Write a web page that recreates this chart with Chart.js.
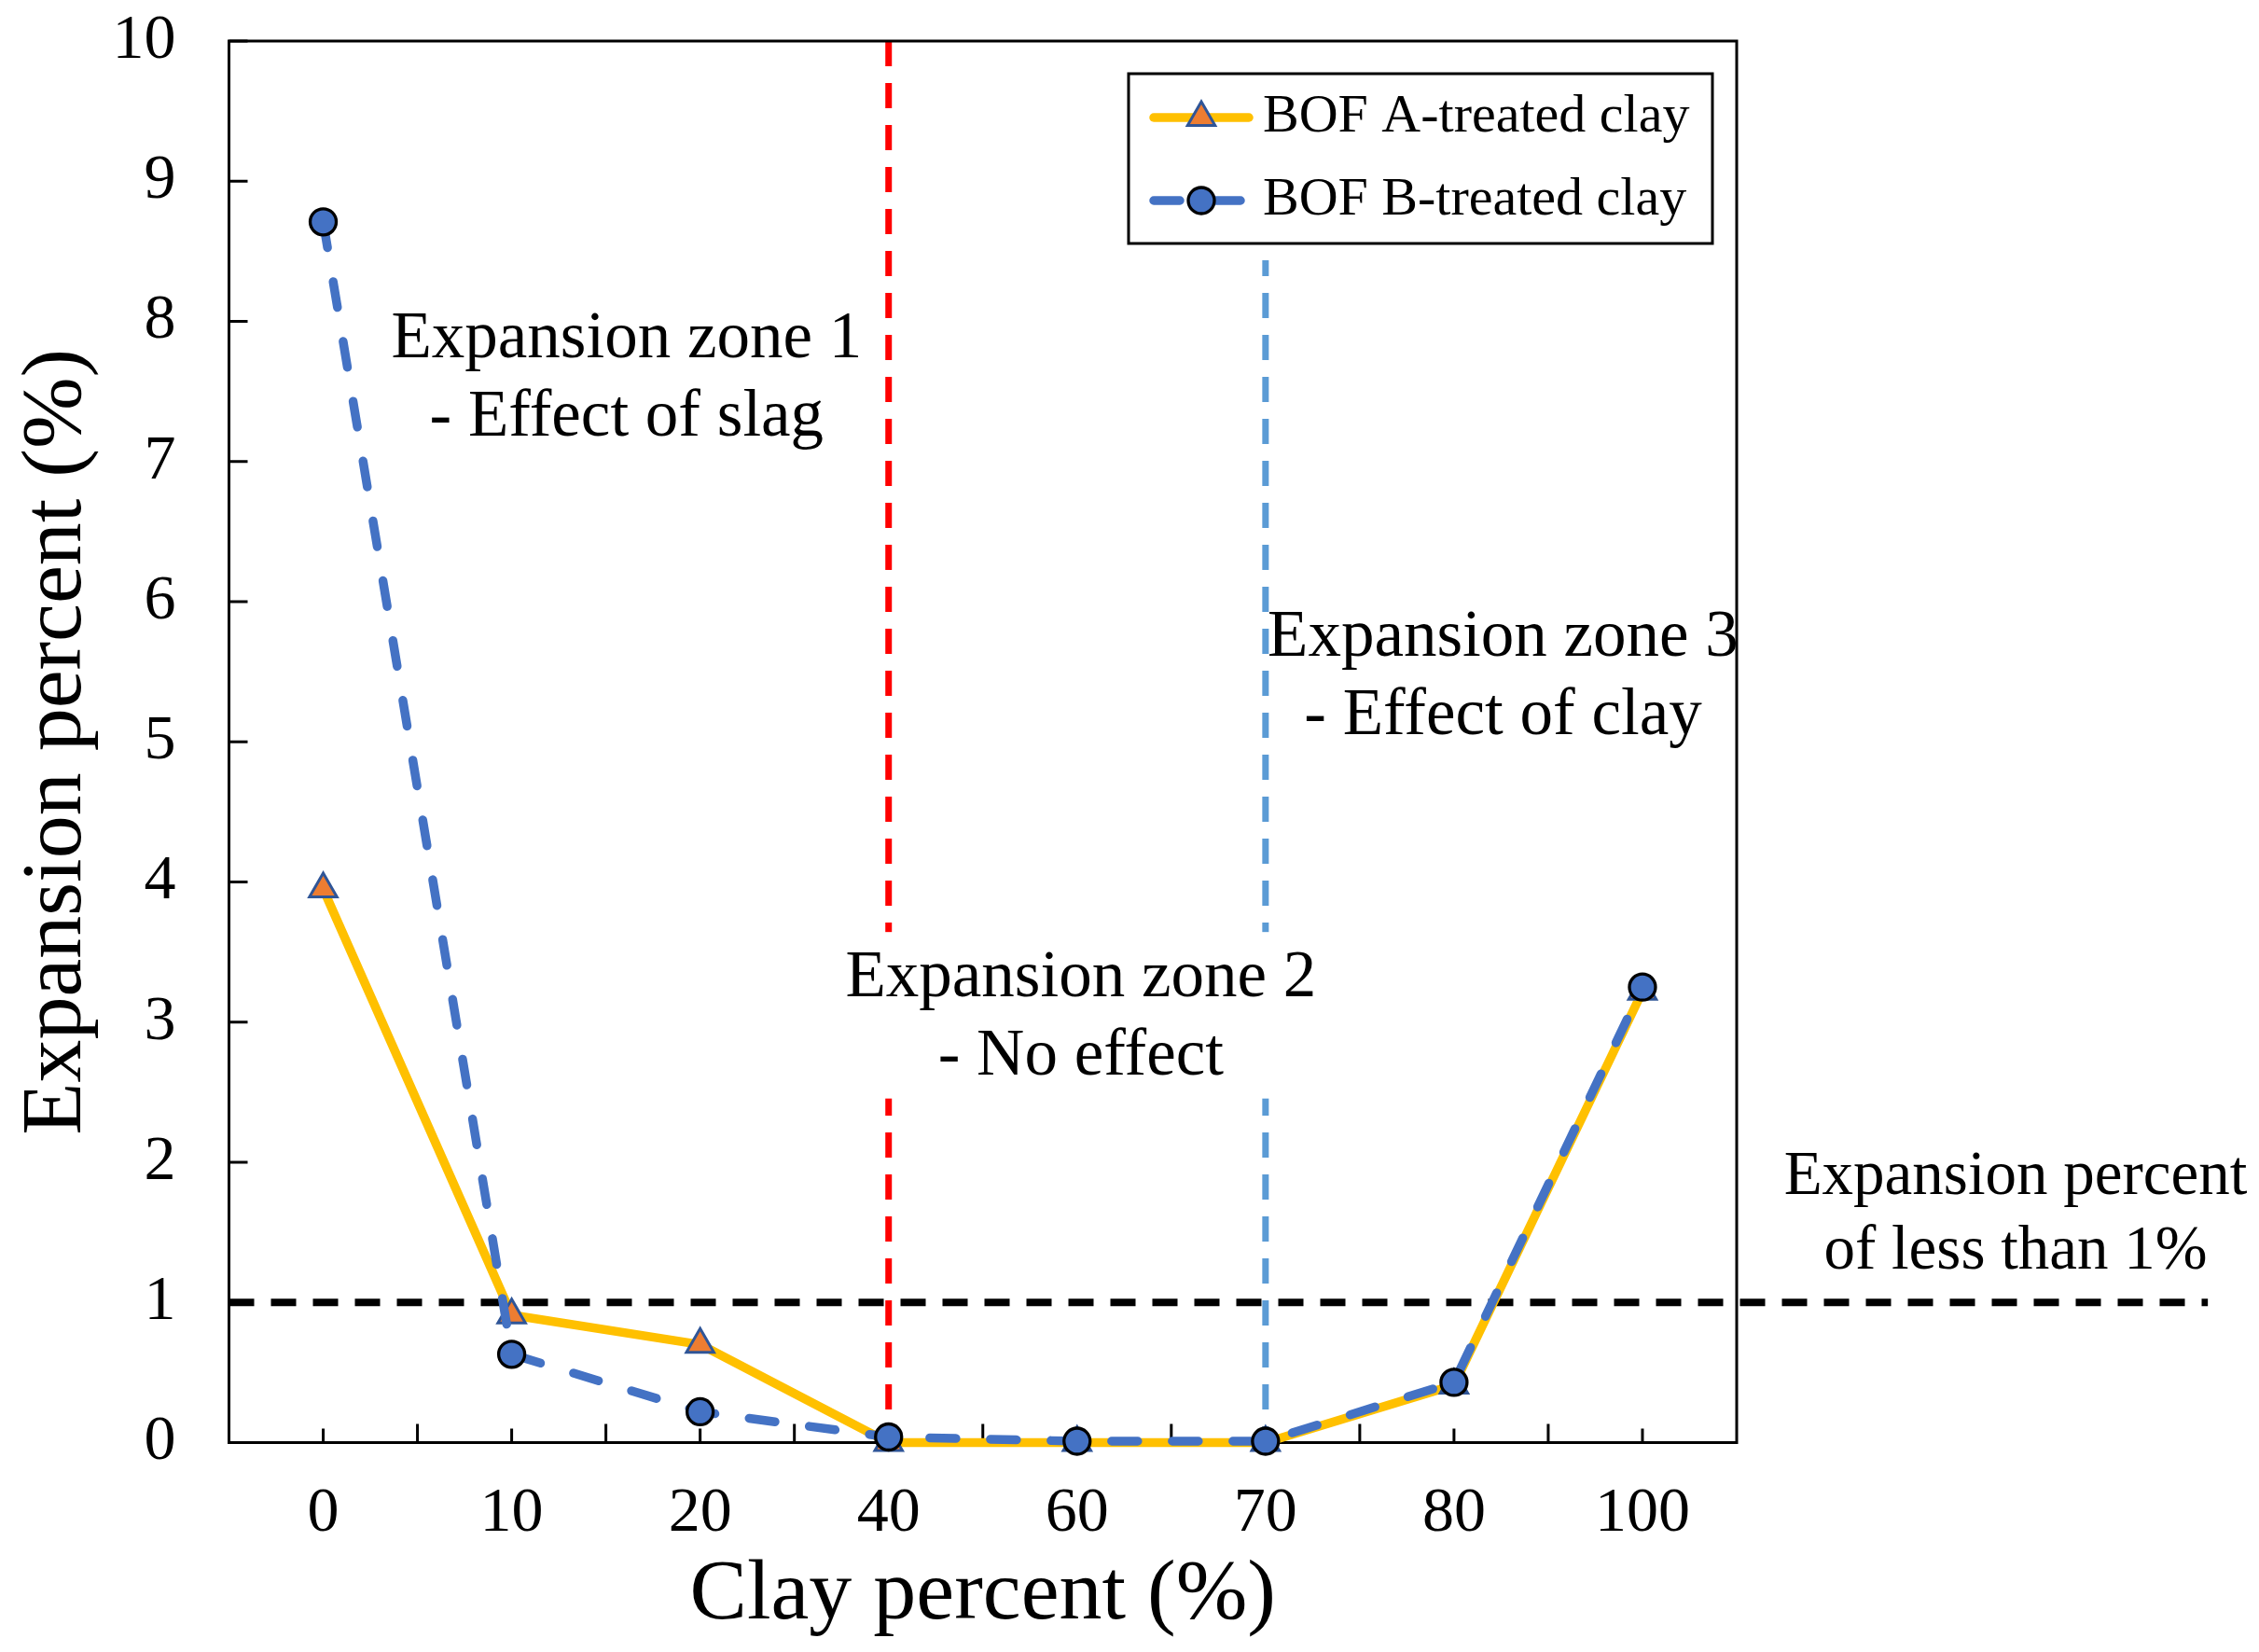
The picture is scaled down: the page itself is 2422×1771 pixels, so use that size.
<!DOCTYPE html>
<html>
<head>
<meta charset="utf-8">
<script src="https://cdn.jsdelivr.net/npm/chart.js@4.4.1/dist/chart.umd.min.js"></script>
<style>
  html, body { margin: 0; padding: 0; background: #fff; }
  #wrap { width: 2422px; height: 1771px; }
</style>
</head>
<body>
<div id="wrap"><canvas id="chart" width="2422" height="1771"></canvas></div>
<script>
// categories + series
const clayPercent = ['0', '10', '20', '40', '60', '70', '80', '100'];
const bofA = [3.95, 0.91, 0.70, 0.00, 0.00, 0.00, 0.41, 3.22];
const bofB = [8.71, 0.63, 0.22, 0.04, 0.01, 0.01, 0.43, 3.25];
const seriesNames = ['BOF A-treated clay', 'BOF B-treated clay'];

// zone dividers sit on these categories, limit line at this value
const zoneDividers = ['40', '70'];
const limitValue = 1;

const zone1Note = ['Expansion zone 1', '- Effect of slag'];
const zone2Note = ['Expansion zone 2', '- No effect'];
const zone3Note = ['Expansion zone 3', '- Effect of clay'];
const limitNote = ['Expansion percent', 'of less than 1%'];

const FAMILY = "'Liberation Serif', 'Times New Roman', serif";

const overlay = {
  id: 'overlay',
  beforeDatasetsDraw(chart, args, o) {
    const { ctx, chartArea: a, scales: { x, y } } = chart;
    ctx.save();

    // vertical zone dividers
    ctx.lineWidth = 7;
    ctx.setLineDash([27, 18]);
    zoneDividers.forEach((c, i) => {
      const px = x.getPixelForValue(clayPercent.indexOf(c));
      ctx.strokeStyle = o.dividerColors[i];
      ctx.beginPath();
      ctx.moveTo(px, a.top);
      ctx.lineTo(px, a.bottom);
      ctx.stroke();
    });

    // legend area blanks out whatever is behind it, up to the frame
    const lg = o.legend;
    const bx = a.right - lg.right - lg.width;
    ctx.fillStyle = '#fff';
    ctx.fillRect(bx, a.top, lg.width, lg.top + lg.height + lg.halo);

    // 1% limit line, runs past the plot to the right
    const ly = y.getPixelForValue(limitValue);
    ctx.strokeStyle = '#000';
    ctx.lineWidth = 8;
    ctx.beginPath();
    ctx.moveTo(a.left, ly);
    ctx.lineTo(x.getPixelForValue(o.limitLineEnd), ly);
    ctx.stroke();
    ctx.setLineDash([]);

    // plot frame
    ctx.lineWidth = 3;
    ctx.strokeRect(a.left, a.top, a.right - a.left, a.bottom - a.top);

    // inner tick marks
    ctx.beginPath();
    y.ticks.forEach(t => {
      const py = y.getPixelForValue(t.value);
      ctx.moveTo(a.left, py);
      ctx.lineTo(a.left + 20, py);
    });
    clayPercent.forEach((c, i) => {
      const px = x.getPixelForValue(i);
      ctx.moveTo(px, a.bottom);
      ctx.lineTo(px, a.bottom - 15);
      if (i < clayPercent.length - 1) {
        const bx = x.getPixelForValue(i + 0.5);
        ctx.moveTo(bx, a.bottom);
        ctx.lineTo(bx, a.bottom - 20);
      }
    });
    ctx.stroke();
    ctx.restore();
  },
  afterDatasetsDraw(chart, args, o) {
    const { ctx, chartArea: a, scales: { x, y } } = chart;
    ctx.save();
    ctx.fillStyle = '#000';
    ctx.textAlign = 'center';
    ctx.textBaseline = 'middle';

    o.notes.forEach(n => {
      ctx.font = n.size + 'px ' + FAMILY;
      const px = x.getPixelForValue(n.x);
      const py = y.getPixelForValue(n.y);
      const lh = n.size * 1.19;
      if (n.box) {
        const w = Math.max(...n.lines.map(t => ctx.measureText(t).width)) + 8;
        ctx.fillStyle = '#fff';
        ctx.fillRect(px - w / 2, py - n.box[0], w, lh * (n.lines.length - 1) + n.box[0] + n.box[1]);
        ctx.fillStyle = '#000';
      }
      n.lines.forEach((t, k) => ctx.fillText(t, px, py + k * lh));
    });

    // legend box with line + marker samples
    const lg = o.legend;
    const bx = a.right - lg.right - lg.width;
    const by = a.top + lg.top;
    ctx.fillStyle = '#fff';
    ctx.fillRect(bx, by, lg.width, lg.height);
    ctx.lineWidth = 3;
    ctx.strokeStyle = '#000';
    ctx.strokeRect(bx, by, lg.width, lg.height);
    ctx.textAlign = 'left';
    ctx.font = lg.size + 'px ' + FAMILY;
    chart.data.datasets.forEach((ds, i) => {
      const cy = by + lg.firstRow + i * lg.rowGap;
      const x0 = bx + lg.lineFrom, x1 = bx + lg.lineTo;
      ctx.setLineDash(ds.borderDash || []);
      ctx.lineCap = 'round';
      ctx.strokeStyle = ds.borderColor;
      ctx.lineWidth = ds.borderWidth;
      ctx.beginPath();
      ctx.moveTo(x0, cy);
      ctx.lineTo(x1, cy);
      ctx.stroke();
      ctx.setLineDash([]);
      ctx.fillStyle = ds.pointBackgroundColor;
      ctx.strokeStyle = ds.pointBorderColor;
      ctx.lineWidth = ds.pointBorderWidth;
      Chart.helpers.drawPoint(ctx, {
        pointStyle: ds.pointStyle, radius: ds.pointRadius,
        borderWidth: ds.pointBorderWidth, rotation: 0
      }, (x0 + x1) / 2, cy);
      ctx.fillStyle = '#000';
      ctx.fillText(ds.label, bx + lg.textFrom, cy);
    });
    ctx.restore();
  }
};

new Chart(document.getElementById('chart'), {
  type: 'line',
  data: {
    labels: clayPercent,
    datasets: [
      {
        label: seriesNames[0],
        data: bofA,
        borderColor: '#FFC000',
        borderWidth: 9.5,
        borderJoinStyle: 'round',
        pointStyle: 'triangle',
        pointRadius: 17,
        pointBackgroundColor: '#ED7D31',
        pointBorderColor: '#2F5597',
        pointBorderWidth: 3,
        tension: 0,
        clip: false,
        order: 2
      },
      {
        label: seriesNames[1],
        data: bofB,
        borderColor: '#4472C4',
        borderWidth: 9.5,
        borderDash: [28, 37],
        borderCapStyle: 'round',
        pointStyle: 'circle',
        pointRadius: 14,
        pointBackgroundColor: '#4472C4',
        pointBorderColor: '#000',
        pointBorderWidth: 3.3,
        tension: 0,
        clip: false,
        order: 1
      }
    ]
  },
  options: {
    responsive: false,
    animation: false,
    devicePixelRatio: 1,
    layout: { padding: { top: 44, right: 560, bottom: 0, left: 0 } },
    plugins: {
      legend: { display: false },
      tooltip: { enabled: false },
      overlay: {
        dividerColors: ['#FF0000', '#5B9BD5'],
        limitLineEnd: 10,
        notes: [
          { lines: zone1Note, x: 1.61, y: 7.87, size: 71 },
          { lines: zone2Note, x: 4.02, y: 3.31, size: 71, box: [50, 44] },
          { lines: zone3Note, x: 6.26, y: 5.74, size: 71 },
          { lines: limitNote, x: 8.98, y: 1.89, size: 67 }
        ],
        legend: {
          right: 26, top: 35, width: 626, height: 182, halo: 18,
          firstRow: 47, rowGap: 89, lineFrom: 27, lineTo: 129, textFrom: 144, size: 58
        }
      }
    },
    scales: {
      x: {
        offset: true,
        grid: { display: false, drawTicks: false },
        border: { display: false },
        ticks: { color: '#000', font: { family: FAMILY, size: 68 }, padding: 36, maxRotation: 0, autoSkip: false },
        title: {
          display: true, text: 'Clay percent (%)', color: '#000',
          font: { family: FAMILY, size: 92 }, padding: { top: 0, bottom: 5 }
        },
        afterFit: s => {
          s.height = 224.5;
          s.paddingLeft = 0;
          s.paddingRight = 0;
        }
      },
      y: {
        min: 0,
        max: 10,
        grid: { display: false, drawTicks: false },
        border: { display: false },
        ticks: { stepSize: 1, color: '#000', font: { family: FAMILY, size: 68 }, padding: 57 },
        title: {
          display: true, text: 'Expansion percent (%)', color: '#000',
          font: { family: FAMILY, size: 92 }, padding: { top: 7, bottom: 0 }
        },
        afterFit: s => {
          s.width = 245.5;
          s.paddingTop = 0;
          s.paddingBottom = 0;
        }
      }
    }
  },
  plugins: [overlay]
});
</script>
</body>
</html>
